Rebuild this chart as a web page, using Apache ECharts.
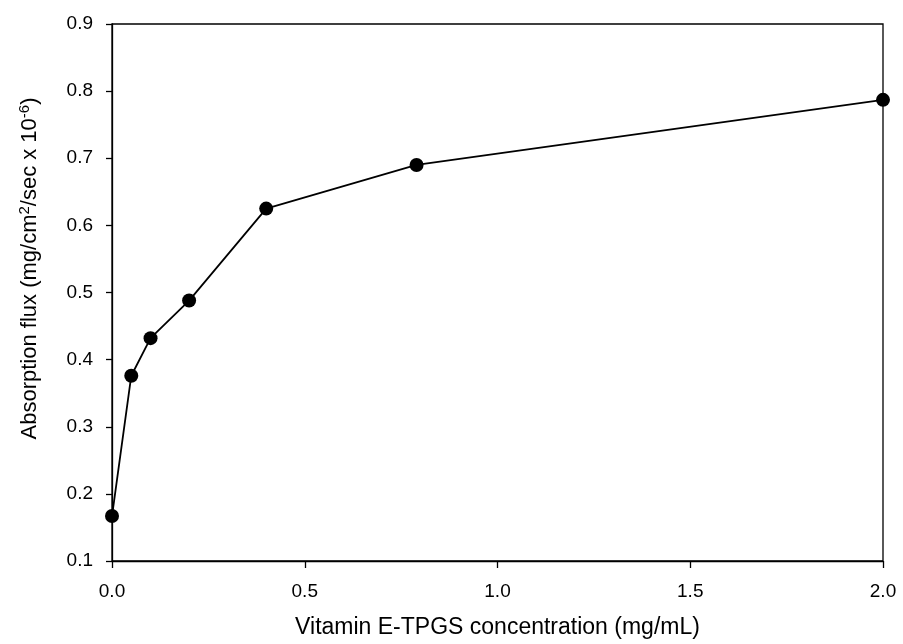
<!DOCTYPE html>
<html>
<head>
<meta charset="utf-8">
<script src="https://cdn.jsdelivr.net/npm/echarts@6/dist/echarts.min.js"></script>
<style>html,body{margin:0;padding:0;background:#fff}#c{width:903px;height:644px}</style>
</head>
<body>
<div id="c"></div>
<script>
const concentration = [0, 0.05, 0.1, 0.2, 0.4, 0.79, 2.0];
const flux = [0.167, 0.376, 0.432, 0.488, 0.625, 0.690, 0.787];
const xTicks = [0, 0.5, 1.0, 1.5, 2.0];
const yTicks = [0.1, 0.2, 0.3, 0.4, 0.5, 0.6, 0.7, 0.8, 0.9];

const FONT = '"Liberation Sans", Arial, sans-serif';
const chart = echarts.init(document.getElementById('c'), null, {renderer: 'canvas'});
chart.setOption({
  animation: false,
  backgroundColor: '#fff',
  grid: {left: 112, right: 20, top: 24, bottom: 80, show: true, borderColor: '#000', borderWidth: 1.3, backgroundColor: 'transparent'},
  xAxis: {
    type: 'value', min: xTicks[0], max: xTicks[xTicks.length - 1], interval: 0.5,
    name: 'Vitamin E-TPGS concentration (mg/mL)', nameLocation: 'middle', nameGap: 55,
    nameTextStyle: {fontFamily: FONT, fontSize: 23, color: '#000'},
    axisLine: {lineStyle: {color: '#000', width: 1.3}},
    axisTick: {show: true, inside: false, length: 7, lineStyle: {color: '#000', width: 1.3}},
    axisLabel: {margin: 21, fontFamily: FONT, fontSize: 19, color: '#000', formatter: v => v.toFixed(1)},
    splitLine: {show: false}
  },
  yAxis: {
    type: 'value', min: yTicks[0], max: yTicks[yTicks.length - 1], interval: 0.1,
    name: 'Absorption flux (mg/cm{sup|2}/sec x 10{sup|-6})', nameLocation: 'middle', nameGap: 70, nameRotate: 90,
    nameTextStyle: {fontFamily: FONT, fontSize: 22, color: '#000', padding: [0, 0, 0, 48],
      rich: {sup: {fontFamily: FONT, fontSize: 15, color: '#000', verticalAlign: 'top', padding: [0, 0, 10, 0]}}},
    axisLine: {lineStyle: {color: '#000', width: 1.3}},
    axisTick: {show: true, inside: false, length: 6, lineStyle: {color: '#000', width: 1.3}},
    axisLabel: {margin: 19, fontFamily: FONT, fontSize: 19, color: '#000', formatter: v => v.toFixed(1)},
    splitLine: {show: false}
  },
  series: [{
    type: 'line',
    data: concentration.map((x, i) => [x, flux[i]]),
    symbol: 'circle', symbolSize: 14,
    itemStyle: {color: '#000'},
    lineStyle: {color: '#000', width: 1.8},
    clip: false
  }]
});
</script>
</body>
</html>
